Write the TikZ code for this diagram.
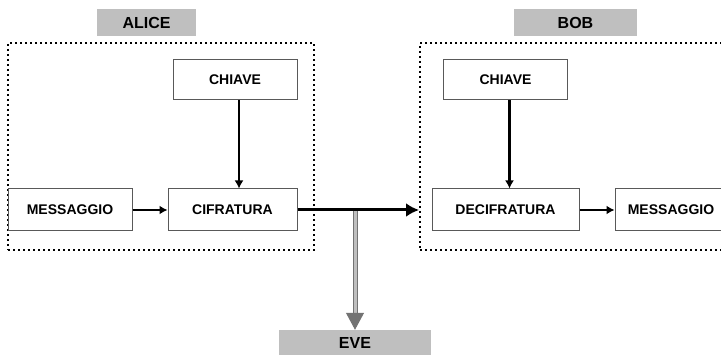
\documentclass[tikz,border=0pt]{standalone}
\usepackage{fontspec}
\setmainfont{Liberation Sans}
\usepackage{tikz}
\usetikzlibrary{arrows.meta, positioning}

\tikzset{
  block/.style={rectangle, draw=black!65, line width=1pt, fill=white, minimum height=42pt,
    inner sep=0pt, font=\fontsize{14}{16}\selectfont\bfseries},
  party/.style={rectangle, fill=black!25, minimum height=27pt, inner sep=0pt,
    font=\fontsize{16}{18}\selectfont\bfseries},
  zone/.style={rectangle, draw=black, line width=2pt, dash pattern=on 2pt off 3pt, inner sep=0pt},
  flow/.style={line width=2.5pt, -{Latex[length=8pt,width=9pt]}},
  channel/.style={line width=3pt, -{Latex[length=13pt,width=14pt]}},
  tap/.style={draw=black!55, line width=1pt, double=black!25, double distance=3pt,
    -{Triangle[length=17pt,width=18pt,fill=black!55]}}
}

\begin{document}
\begin{tikzpicture}[x=1pt, y=-1pt, node distance=35pt]
    \useasboundingbox (0,0) rectangle (721,355);

    % Alice
    \node (aliceZone) [zone, minimum width=306pt, minimum height=207pt] at (161,146.5) {};
    \node (alice) [party, minimum width=99pt] at (146.5,22.5) {ALICE};
    \node (messA) [block, minimum width=124pt] at (70,210) {MESSAGGIO};
    \node (cifra) [block, minimum width=129pt, right=of messA] {CIFRATURA};
    \node (keyA) [block, minimum width=124pt, minimum height=40pt, anchor=south east]
        at ([yshift=88pt]cifra.north east) {CHIAVE};

    % Bob
    \node (bobZone) [zone, minimum width=340pt, minimum height=207pt] at (590,146.5) {};
    \node (bob) [party, minimum width=123pt] at (575.5,22.5) {BOB};
    \node (decifra) [block, minimum width=147pt] at (505.5,210) {DECIFRATURA};
    \node (messB) [block, minimum width=112pt, right=of decifra] {MESSAGGIO};
    \node (keyB) [block, minimum width=124pt, minimum height=40pt, above=88pt of decifra] {CHIAVE};

    % Eve
    \node (eve) [party, minimum width=152pt, minimum height=26pt] at (355,343) {EVE};
    \coordinate (split) at (eve.north |- cifra.east);

    \draw[flow] (messA) -- (cifra);
    \draw[flow] ([xshift=4pt]keyA.south) -- ([xshift=4pt]keyA.south |- cifra.north);
    \draw[channel] (cifra.east) -- (cifra.east -| bobZone.west);
    \draw[tap] ([yshift=-1.5pt]split) -- (eve.north);
    \draw[flow] ([xshift=4pt]keyB.south) -- ([xshift=4pt]keyB.south |- decifra.north);
    \draw[flow] (decifra) -- (messB);
\end{tikzpicture}
\end{document}
